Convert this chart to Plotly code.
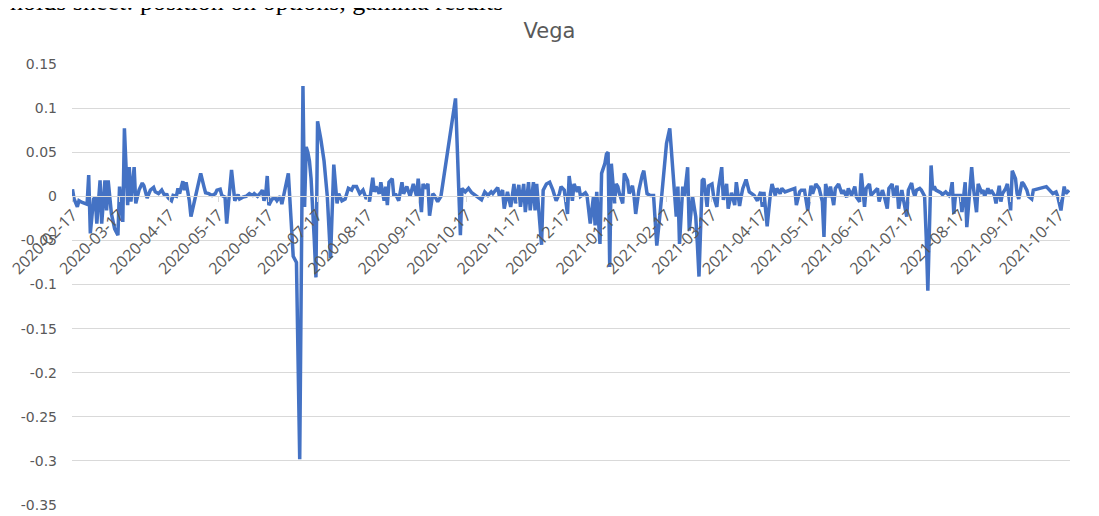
import plotly.graph_objects as go

# ---- data ----
dates = [
    # 2020-02
    "2020-02-17", "2020-02-18", "2020-02-20", "2020-02-21", "2020-02-23", "2020-02-26", "2020-02-27", "2020-02-28",
    # 2020-03
    "2020-03-01", "2020-03-02", "2020-03-03", "2020-03-05", "2020-03-06", "2020-03-08", "2020-03-09", "2020-03-10",
    "2020-03-12", "2020-03-14", "2020-03-16", "2020-03-17", "2020-03-19", "2020-03-20", "2020-03-22", "2020-03-23",
    "2020-03-24", "2020-03-26", "2020-03-27", "2020-03-29", "2020-03-31",
    # 2020-04
    "2020-04-01", "2020-04-03", "2020-04-05", "2020-04-07", "2020-04-08", "2020-04-10", "2020-04-12", "2020-04-14",
    "2020-04-15", "2020-04-16", "2020-04-18", "2020-04-19", "2020-04-21", "2020-04-22", "2020-04-23", "2020-04-25",
    "2020-04-26", "2020-04-27", "2020-04-29", "2020-04-30",
    # 2020-05
    "2020-05-02", "2020-05-04", "2020-05-06", "2020-05-08", "2020-05-09", "2020-05-11", "2020-05-13", "2020-05-15",
    "2020-05-16", "2020-05-18", "2020-05-19", "2020-05-21", "2020-05-22", "2020-05-25", "2020-05-27", "2020-05-29",
    "2020-05-30",
    # 2020-06
    "2020-06-01", "2020-06-03", "2020-06-05", "2020-06-07", "2020-06-08", "2020-06-10", "2020-06-12", "2020-06-13",
    "2020-06-14", "2020-06-15", "2020-06-16", "2020-06-17", "2020-06-19", "2020-06-21", "2020-06-22", "2020-06-24",
    "2020-06-25", "2020-06-27", "2020-06-29",
    # 2020-07
    "2020-07-02", "2020-07-04", "2020-07-06", "2020-07-08", "2020-07-09", "2020-07-10", "2020-07-11", "2020-07-12",
    "2020-07-13", "2020-07-14", "2020-07-15", "2020-07-16", "2020-07-17", "2020-07-19", "2020-07-21", "2020-07-23",
    "2020-07-24", "2020-07-25", "2020-07-27", "2020-07-29", "2020-07-30",
    # 2020-08
    "2020-08-01", "2020-08-03", "2020-08-05", "2020-08-07", "2020-08-08", "2020-08-10", "2020-08-12", "2020-08-14",
    "2020-08-16", "2020-08-17", "2020-08-18", "2020-08-20", "2020-08-21", "2020-08-22", "2020-08-24", "2020-08-25",
    "2020-08-27", "2020-08-28", "2020-08-29", "2020-08-30",
    # 2020-09
    "2020-09-01", "2020-09-02", "2020-09-03", "2020-09-05", "2020-09-07", "2020-09-08", "2020-09-10", "2020-09-12",
    "2020-09-14", "2020-09-16", "2020-09-17", "2020-09-19", "2020-09-20", "2020-09-21", "2020-09-23", "2020-09-24",
    "2020-09-26", "2020-09-27", "2020-09-29",
    # 2020-10
    "2020-10-01", "2020-10-10", "2020-10-13", "2020-10-14", "2020-10-16", "2020-10-18", "2020-10-20", "2020-10-23",
    "2020-10-26", "2020-10-28", "2020-10-30",
    # 2020-11
    "2020-11-01", "2020-11-02", "2020-11-05", "2020-11-06", "2020-11-08", "2020-11-09", "2020-11-11", "2020-11-13",
    "2020-11-15", "2020-11-16", "2020-11-18", "2020-11-19", "2020-11-21", "2020-11-22", "2020-11-24", "2020-11-25",
    "2020-11-27", "2020-11-28", "2020-11-29",
    # 2020-12
    "2020-12-02", "2020-12-03", "2020-12-05", "2020-12-07", "2020-12-09", "2020-12-11", "2020-12-13", "2020-12-14",
    "2020-12-16", "2020-12-18", "2020-12-19", "2020-12-21", "2020-12-22", "2020-12-24", "2020-12-25", "2020-12-26",
    "2020-12-29", "2020-12-30",
    # 2021-01
    "2021-01-01", "2021-01-03", "2021-01-04", "2021-01-05", "2021-01-07", "2021-01-08", "2021-01-10", "2021-01-11",
    "2021-01-12", "2021-01-13", "2021-01-14", "2021-01-16", "2021-01-17", "2021-01-18", "2021-01-19", "2021-01-21",
    "2021-01-22", "2021-01-24", "2021-01-25", "2021-01-27", "2021-01-28", "2021-01-29", "2021-01-31",
    # 2021-02
    "2021-02-02", "2021-02-03", "2021-02-05", "2021-02-07", "2021-02-09", "2021-02-11", "2021-02-13", "2021-02-14",
    "2021-02-16", "2021-02-17", "2021-02-19", "2021-02-20", "2021-02-21", "2021-02-23", "2021-02-24", "2021-02-25",
    "2021-02-27", "2021-02-28",
    # 2021-03
    "2021-03-02", "2021-03-03", "2021-03-05", "2021-03-07", "2021-03-08", "2021-03-09", "2021-03-11", "2021-03-12",
    "2021-03-14", "2021-03-15", "2021-03-17", "2021-03-18", "2021-03-20", "2021-03-21", "2021-03-23", "2021-03-24",
    "2021-03-26", "2021-03-27", "2021-03-29", "2021-03-31",
    # 2021-04
    "2021-04-01", "2021-04-03", "2021-04-04", "2021-04-05", "2021-04-07", "2021-04-09", "2021-04-12", "2021-04-14",
    "2021-04-16", "2021-04-17", "2021-04-18", "2021-04-20", "2021-04-22", "2021-04-23", "2021-04-25", "2021-04-26",
    "2021-04-28", "2021-04-29",
    # 2021-05
    "2021-05-01", "2021-05-05", "2021-05-07", "2021-05-08", "2021-05-10", "2021-05-11", "2021-05-13", "2021-05-15",
    "2021-05-17", "2021-05-18", "2021-05-20", "2021-05-22", "2021-05-24", "2021-05-25", "2021-05-26", "2021-05-28",
    "2021-05-29", "2021-05-31",
    # 2021-06
    "2021-06-01", "2021-06-03", "2021-06-05", "2021-06-06", "2021-06-08", "2021-06-09", "2021-06-11", "2021-06-13",
    "2021-06-14", "2021-06-16", "2021-06-17", "2021-06-19", "2021-06-20", "2021-06-22", "2021-06-23", "2021-06-25",
    "2021-06-27", "2021-06-28", "2021-06-30",
    # 2021-07
    "2021-07-01", "2021-07-03", "2021-07-04", "2021-07-06", "2021-07-07", "2021-07-09", "2021-07-10", "2021-07-12",
    "2021-07-13", "2021-07-15", "2021-07-16", "2021-07-18", "2021-07-19", "2021-07-20", "2021-07-21", "2021-07-23",
    "2021-07-24", "2021-07-26", "2021-07-27", "2021-07-28", "2021-07-30", "2021-07-31",
    # 2021-08
    "2021-08-01", "2021-08-02", "2021-08-05", "2021-08-06", "2021-08-08", "2021-08-10", "2021-08-11", "2021-08-12",
    "2021-08-13", "2021-08-14", "2021-08-16", "2021-08-17", "2021-08-18", "2021-08-20", "2021-08-21", "2021-08-23",
    "2021-08-24", "2021-08-25", "2021-08-27", "2021-08-28", "2021-08-30", "2021-08-31",
    # 2021-09
    "2021-09-01", "2021-09-03", "2021-09-04", "2021-09-05", "2021-09-07", "2021-09-08", "2021-09-10", "2021-09-11",
    "2021-09-12", "2021-09-14", "2021-09-15", "2021-09-17", "2021-09-18", "2021-09-20", "2021-09-21", "2021-09-22",
    "2021-09-24", "2021-09-25", "2021-09-27", "2021-09-28", "2021-09-30",
    # 2021-10
    "2021-10-01", "2021-10-05", "2021-10-09", "2021-10-11", "2021-10-13", "2021-10-15", "2021-10-16", "2021-10-18",
    "2021-10-20", "2021-10-21", "2021-10-23",
]

vega = [
    # 2020-02
    0.008, -0.003, -0.012, -0.005, -0.007, -0.009, 0.024, -0.042,
    # 2020-03
    -0.003, -0.001, -0.031, 0.018, -0.031, 0.018, -0.016, 0.018,
    -0.020, -0.037, -0.044, 0.011, -0.029, 0.077, -0.010, 0.033,
    -0.006, 0.033, -0.008, 0.007, 0.015,
    # 2020-04
    0.012, -0.002, 0.007, 0.010, 0.005, 0.003, 0.007, 0.000,
    0.003, -0.002, -0.005, 0.001, 0.000, 0.009, 0.003, 0.017,
    0.007, 0.016, -0.005, -0.023,
    # 2020-05
    -0.006, 0.012, 0.026, 0.011, 0.004, 0.003, 0.001, 0.003,
    0.007, 0.008, 0.001, -0.001, -0.031, 0.030, -0.005, 0.002,
    -0.003,
    # 2020-06
    -0.001, 0.000, 0.003, 0.001, 0.003, 0.000, 0.004, 0.007,
    -0.005, 0.001, 0.023, -0.010, -0.003, -0.002, -0.005, 0.000,
    -0.009, 0.011, 0.026,
    # 2020-07
    -0.068, -0.075, -0.298, 0.125, -0.012, 0.056, 0.050, 0.040,
    0.020, -0.010, -0.050, -0.092, 0.085, 0.065, 0.040, 0.000,
    -0.040, -0.070, 0.036, -0.008, 0.003,
    # 2020-08
    -0.005, -0.003, 0.009, 0.007, 0.011, 0.011, 0.003, 0.007,
    -0.003, 0.001, -0.006, 0.021, 0.005, 0.011, 0.003, 0.016,
    -0.005, 0.011, -0.010, 0.016,
    # 2020-09
    0.020, 0.000, 0.003, -0.005, 0.016, 0.003, 0.011, 0.000,
    0.014, 0.000, 0.020, -0.018, 0.014, 0.009, 0.014, -0.022,
    0.003, 0.001, -0.006,
    # 2020-10
    0.000, 0.111, -0.044, 0.009, 0.005, 0.009, 0.004, 0.000,
    -0.004, 0.005, 0.001,
    # 2020-11
    0.005, 0.003, 0.010, 0.000, 0.007, -0.014, 0.005, -0.012,
    0.014, -0.008, 0.013, -0.012, 0.014, -0.018, 0.016, -0.016,
    0.016, -0.016, 0.014,
    # 2020-12
    -0.055, 0.007, 0.014, 0.016, 0.007, -0.005, 0.003, 0.011,
    0.007, -0.020, 0.023, -0.005, 0.014, 0.005, 0.011, 0.000,
    0.004, 0.001,
    # 2021-01
    -0.031, 0.000, -0.033, 0.005, -0.054, 0.026, 0.037, 0.048,
    0.050, -0.080, 0.037, -0.008, 0.014, 0.011, 0.003, -0.008,
    0.026, 0.018, 0.003, 0.012, 0.000, -0.020, 0.007,
    # 2021-02
    0.024, 0.029, 0.003, 0.001, 0.001, -0.056, -0.020, 0.000,
    0.033, 0.060, 0.077, 0.052, 0.022, -0.023, 0.011, -0.054,
    0.011, 0.000,
    # 2021-03
    0.033, -0.039, 0.000, -0.023, -0.054, -0.091, 0.018, 0.020,
    -0.012, 0.012, 0.014, 0.000, -0.012, 0.009, 0.033, -0.004,
    0.014, -0.014, 0.004, -0.010,
    # 2021-04
    0.016, -0.011, 0.000, 0.009, 0.019, 0.005, 0.001, -0.005,
    0.005, -0.012, 0.005, -0.034, 0.003, 0.014, 0.001, 0.009,
    0.003, 0.009,
    # 2021-05
    0.005, 0.007, 0.009, -0.010, 0.005, 0.007, 0.007, -0.016,
    0.012, 0.003, 0.014, 0.009, -0.006, -0.046, 0.014, -0.001,
    0.011, -0.010,
    # 2021-06
    0.009, 0.014, 0.003, 0.007, -0.001, 0.009, 0.001, 0.011,
    -0.001, -0.006, 0.026, -0.012, 0.009, 0.014, 0.001, 0.005,
    0.009, -0.006, 0.007,
    # 2021-07
    0.001, -0.014, 0.009, 0.014, -0.001, 0.012, -0.014, 0.007,
    -0.004, -0.023, 0.007, 0.015, 0.005, 0.000, 0.007, 0.009,
    0.007, 0.000, -0.046, -0.107, 0.035, 0.007,
    # 2021-08
    0.011, 0.007, 0.004, 0.002, 0.005, 0.001, 0.005, 0.016,
    -0.020, 0.001, 0.001, 0.001, -0.018, 0.016, -0.035, 0.007,
    0.033, 0.011, -0.018, 0.014, 0.005, 0.007,
    # 2021-09
    0.000, 0.009, 0.003, 0.007, 0.001, -0.008, 0.012, -0.006,
    0.003, 0.009, 0.014, -0.016, 0.029, 0.020, 0.003, -0.003,
    0.016, 0.014, 0.007, 0.000, -0.003,
    # 2021-10
    0.007, 0.009, 0.011, 0.007, 0.003, 0.005, 0.000, -0.016,
    0.011, 0.003, 0.007,
]

tick_dates = [
    "2020-02-17", "2020-03-17", "2020-04-17", "2020-05-17", "2020-06-17", "2020-07-17", "2020-08-17",
    "2020-09-17", "2020-10-17", "2020-11-17", "2020-12-17", "2021-01-17", "2021-02-17", "2021-03-17",
    "2021-04-17", "2021-05-17", "2021-06-17", "2021-07-17", "2021-08-17", "2021-09-17", "2021-10-17",
]
y_ticks = [0.15, 0.1, 0.05, 0, -0.05, -0.1, -0.15, -0.2, -0.25, -0.3, -0.35]
y_labels = ["0.15", "0.1", "0.05", "0", "-0.05", "-0.1", "-0.15", "-0.2", "-0.25", "-0.3", "-0.35"]

assert len(dates) == len(vega)

GRAY_TXT = "#595959"
GRID = "#d9d9d9"
FONT = "Open Sans"
WIDE = "DejaVu Sans"

# the page body adds an 8px margin, so the figure is sized to fit the window
W, H = 1091, 508

fig = go.Figure()
fig.add_trace(go.Scatter(
    x=dates, y=vega, mode="lines",
    line=dict(color="#4472C4", width=3.5),
    hoverinfo="x+y", showlegend=False,
))

fig.update_layout(
    width=W, height=H,
    margin=dict(l=64, r=29, t=56, b=11, autoexpand=False),
    paper_bgcolor="white", plot_bgcolor="white",
    font=dict(family=FONT, color=GRAY_TXT),
    title=dict(text="Vega", x=541.5 / W, xref="container", xanchor="center",
               y=1 - 23 / H, yref="container", yanchor="middle",
               font=dict(size=21, color=GRAY_TXT, family=WIDE)),
    xaxis=dict(
        type="date",
        range=["2020-02-16 17:00", "2021-10-23 14:00"],
        tickvals=tick_dates, ticktext=tick_dates,
        tickangle=-45,
        anchor="free", position=0.7,
        automargin=False,
        ticklabeloverflow="allow",
        showline=True, linecolor=GRID, linewidth=1,
        ticks="outside", ticklen=5, tickcolor=GRID,
        ticklabelstandoff=-3,
        showgrid=False, zeroline=False,
        tickfont=dict(size=16, color=GRAY_TXT, family=FONT),
    ),
    yaxis=dict(
        range=[-0.35, 0.15],
        tickvals=y_ticks, ticktext=y_labels,
        automargin=False,
        showgrid=True, gridcolor=GRID, gridwidth=1,
        zeroline=False, showline=False, ticks="",
        ticklabelstandoff=14,
        tickfont=dict(size=14, color=GRAY_TXT, family=WIDE),
    ),
    annotations=[dict(
        text="holds sheet: position on options, gamma results",
        xref="paper", yref="paper", x=-64 / 998, y=1 + 63 / 441,
        xanchor="left", yanchor="middle", showarrow=False,
        font=dict(family="Liberation Serif", size=26, color="black"),
    )],
)

fig.write_html("out.html")
